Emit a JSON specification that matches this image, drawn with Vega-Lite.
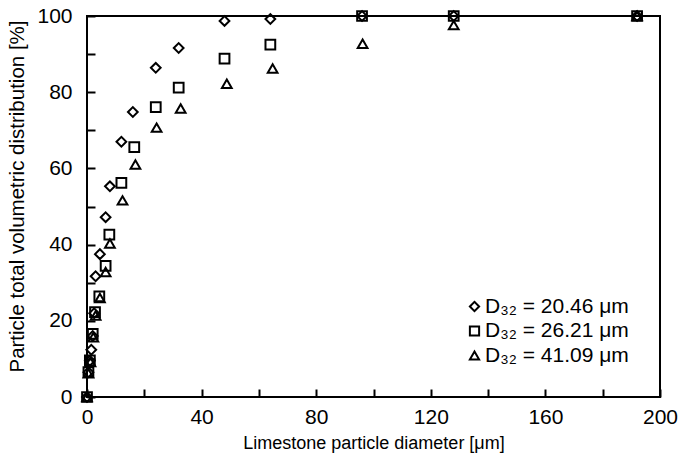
{
  "$schema": "https://vega.github.io/schema/vega-lite/v6.json",
  "width": 573,
  "height": 381,
  "autosize": "none",
  "padding": {"left": 87, "top": 16, "right": 20, "bottom": 65},
  "background": "white",
  "config": {
    "font": "Liberation Sans",
    "view": {"stroke": "black", "strokeWidth": 2},
    "axis": {
      "domain": false, "ticks": true, "tickColor": "black", "tickWidth": 2, "tickSize": 8, "tickOpacity": 1, "offset": -8,
      "labelColor": "black", "titleColor": "black", "labelFontSize": 21, "titleFontSize": 18,
      "titleFontWeight": "normal", "grid": false, "zindex": 1
    }
  },
  "data": {"values": [
    {"d": 0, "v": 0, "s": "A"}, {"d": 0.5, "v": 6.5, "s": "A"}, {"d": 1, "v": 9.5, "s": "A"}, {"d": 1.5, "v": 12.4, "s": "A"}, {"d": 2, "v": 16, "s": "A"}, {"d": 2.5, "v": 22, "s": "A"}, {"d": 3, "v": 31.7, "s": "A"}, {"d": 4.5, "v": 37.5, "s": "A"}, {"d": 6.5, "v": 47.2, "s": "A"}, {"d": 8, "v": 55.3, "s": "A"}, {"d": 12, "v": 67, "s": "A"}, {"d": 16, "v": 74.8, "s": "A"}, {"d": 24, "v": 86.4, "s": "A"}, {"d": 32, "v": 91.6, "s": "A"}, {"d": 48, "v": 98.7, "s": "A"}, {"d": 64, "v": 99.2, "s": "A"}, {"d": 96, "v": 100, "s": "A"}, {"d": 128, "v": 100, "s": "A"}, {"d": 192, "v": 100, "s": "A"},
    {"d": 0, "v": 0, "s": "B"}, {"d": 0.5, "v": 6.5, "s": "B"}, {"d": 1, "v": 9.6, "s": "B"}, {"d": 2, "v": 16.6, "s": "B"}, {"d": 2.8, "v": 22.3, "s": "B"}, {"d": 4.3, "v": 26.4, "s": "B"}, {"d": 6.5, "v": 34.4, "s": "B"}, {"d": 7.8, "v": 42.6, "s": "B"}, {"d": 12, "v": 56.2, "s": "B"}, {"d": 16.5, "v": 65.6, "s": "B"}, {"d": 24, "v": 76.1, "s": "B"}, {"d": 32, "v": 81.2, "s": "B"}, {"d": 48, "v": 88.8, "s": "B"}, {"d": 64, "v": 92.5, "s": "B"}, {"d": 96, "v": 100, "s": "B"}, {"d": 128, "v": 100, "s": "B"}, {"d": 192, "v": 100, "s": "B"},
    {"d": 0, "v": 0, "s": "C"}, {"d": 0.5, "v": 6.2, "s": "C"}, {"d": 1.2, "v": 9.2, "s": "C"}, {"d": 2.2, "v": 15.7, "s": "C"}, {"d": 3, "v": 21.4, "s": "C"}, {"d": 4.5, "v": 26, "s": "C"}, {"d": 6.5, "v": 32.8, "s": "C"}, {"d": 8, "v": 40.3, "s": "C"}, {"d": 12.4, "v": 51.6, "s": "C"}, {"d": 16.9, "v": 61, "s": "C"}, {"d": 24.3, "v": 70.7, "s": "C"}, {"d": 32.7, "v": 75.7, "s": "C"}, {"d": 48.8, "v": 82.2, "s": "C"}, {"d": 64.8, "v": 86.2, "s": "C"}, {"d": 96.2, "v": 92.7, "s": "C"}, {"d": 128, "v": 97.6, "s": "C"}, {"d": 192, "v": 100, "s": "C"}
  ]},
  "mark": {"type": "point", "filled": false, "stroke": "black", "strokeWidth": 2, "size": 95, "opacity": 1, "clip": false},
  "encoding": {
    "x": {
      "field": "d", "type": "quantitative",
      "scale": {"domain": [0, 200], "nice": false, "zero": false},
      "axis": {
        "title": "Limestone particle diameter [μm]",
        "values": [0, 20, 40, 60, 80, 100, 120, 140, 160, 180, 200],
        "labelExpr": "datum.value % 40 === 0 ? datum.label : ''",
        "labelPadding": 9, "titlePadding": 7, "labelFlush": false
      }
    },
    "y": {
      "field": "v", "type": "quantitative",
      "scale": {"domain": [0, 100], "nice": false},
      "axis": {
        "title": "Particle total volumetric distribution [%]",
        "titleFontSize": 20.5, "titleX": -68, "titleY": 180,
        "values": [0, 10, 20, 30, 40, 50, 60, 70, 80, 90, 100],
        "labelExpr": "datum.value % 20 === 0 ? datum.label : ''",
        "labelPadding": 15, "labelFlush": false
      }
    },
    "shape": {
      "field": "s", "type": "nominal",
      "scale": {"domain": ["A", "B", "C"], "range": ["diamond", "square", "triangle-up"]},
      "legend": {
        "title": null, "orient": "none", "legendX": 377, "legendY": 280,
        "labelExpr": "datum.value === 'A' ? 'D₃₂ = 20.46 μm' : datum.value === 'B' ? 'D₃₂ = 26.21 μm' : 'D₃₂ = 41.09 μm'",
        "labelFontSize": 21, "labelColor": "black", "symbolSize": 85, "symbolStrokeWidth": 2,
        "symbolStrokeColor": "black", "symbolFillColor": "transparent", "rowPadding": 2.5, "labelOffset": 0
      }
    }
  }
}
